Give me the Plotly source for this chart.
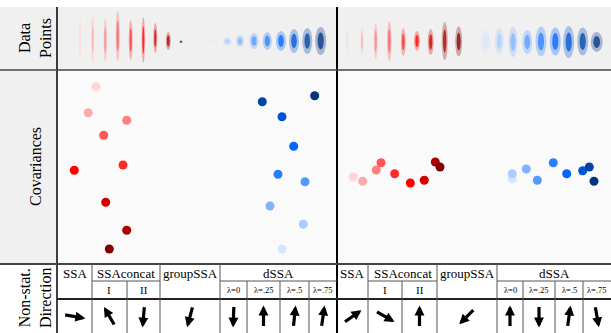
import plotly.graph_objects as go
import math

W, H = 611, 333

# ---------------- data ----------------
red_palette = ['#ffd5d5', '#ffaaaa', '#ff8080', '#ff5555', '#ff2a2a',
               '#ff0000', '#d40000', '#aa0000', '#800000']
blue_palette = ['#d5e5ff', '#aaccff', '#80b3ff', '#5599ff', '#2a7fff',
                '#0066ff', '#0055d4', '#0044aa', '#003380']

# Data-point clouds: centre x, centre y, spread width, spread height (panel units)
dp_left_red_x = [23, 35.7, 48.3, 60.7, 73.7, 86.3, 98.3, 111.3, 124]
dp_left_red_y = [-1.5, -1.5, -2.5, 1.5, -2.5, -2.5, -0.5, -3.5, -4.2]
dp_left_red_w = [2.5, 3, 3.5, 4, 4, 3.5, 4, 5, 3.5]
dp_left_red_h = [48, 46, 44, 50, 40, 46, 30, 18, 3]
dp_left_blue_x = [156.3, 170.3, 183, 197, 210.3, 224, 237, 250.3, 263.7]
dp_left_blue_y = [-4, -4, -3.5, -3.5, -3.5, -3.5, -3.5, -3.5, -3.5]
dp_left_blue_w = [10, 8, 8, 9, 9, 10, 10, 10, 11]
dp_left_blue_h = [1.5, 8, 12, 16, 18, 20, 24, 26, 28]

dp_right_red_x = [10.3, 25, 38.7, 52.3, 66.3, 80, 93.7, 107.7, 121.7]
dp_right_red_y = [-3.5, -4, -3.5, -3.5, -4.5, -3.5, -4.5, -3.5, -4]
dp_right_red_w = [2, 3, 4, 4.5, 5, 6, 6, 6, 7]
dp_right_red_h = [28, 26, 36, 40, 28, 20, 26, 38, 30]
dp_right_blue_x = [148.3, 162.3, 176, 190.3, 204, 218.3, 231.7, 245.7, 259.7]
dp_right_blue_y = [-4.5, -3.5, -4.5, -4.5, -4, -4, -4.5, -4, -4.5]
dp_right_blue_w = [10, 9, 9, 10, 11, 11, 11, 11, 12]
dp_right_blue_h = [24, 26, 30, 24, 30, 28, 32, 28, 20]

# Covariances
cov_left_red_x = [39, 31.3, 69.7, 46.7, 66, 17.3, 48.7, 69.7, 52.3]
cov_left_red_y = [177.3, 151.3, 143.7, 128.7, 99, 93.7, 61.7, 33.7, 15]
cov_left_blue_x = [225, 246.3, 213, 248, 221, 236.7, 225, 205.3, 257.7]
cov_left_blue_y = [15, 39.7, 58, 82.3, 89.7, 117.7, 147.3, 162.3, 168.3]
cov_right_red_x = [16.3, 25.7, 39.3, 44, 57.7, 73.3, 87.3, 98.3, 103]
cov_right_red_y = [87, 82.7, 94, 101.3, 90.3, 81, 83.7, 102, 97]
cov_right_blue_x = [175.3, 175.3, 189.3, 200.3, 216.3, 229.7, 245.7, 252.3, 257]
cov_right_blue_y = [85.3, 90.3, 95, 83.7, 101.3, 90.3, 93.3, 97, 82.7]

# Table
methods = ["SSA", "SSAconcat", "groupSSA", "dSSA"]
sub_labels = {"SSAconcat": ["I", "II"], "dSSA": ["λ=0", "λ=.25", "λ=.5", "λ=.75"]}
angles_left = [-10, 120, -95, -105, -92, 90, 84, 82]
angles_right = [35, -30, 90, -135, 90, -90, 82, -80]

# ---------------- layout constants ----------------
def fx(px):
    return px / W

def fy(py):
    return 1 - py / H

LBL = 57
MID = 337
TOP0, TOP1 = 7, 70
COV1 = 264
HDR1, SUB1 = 281, 299

edges_left = [57, 92, 127, 160, 220, 247, 280, 309, 337]
edges_right = [337, 368, 402, 437, 497, 523, 555, 583, 611]
spans = {"SSA": (0, 1), "SSAconcat": (1, 3), "groupSSA": (3, 4), "dSSA": (4, 8)}

SERIF = "Liberation Serif, Times New Roman, serif"

fig = go.Figure()
shapes = []
annotations = []

def rect(x0, y0, x1, y1, color):
    shapes.append(dict(type="rect", xref="paper", yref="paper", x0=fx(x0), x1=fx(x1),
                       y0=fy(y1), y1=fy(y0), fillcolor=color, line=dict(width=0), layer="below"))

def line(x0, y0, x1, y1, color="black", width=1):
    shapes.append(dict(type="line", xref="paper", yref="paper", x0=fx(x0), x1=fx(x1),
                       y0=fy(y0), y1=fy(y1), line=dict(color=color, width=width), layer="above"))

def text(px, py, t, size, angle=0):
    annotations.append(dict(x=fx(px), y=fy(py), xref="paper", yref="paper", text=t,
                            showarrow=False, xanchor="center", yanchor="middle",
                            textangle=angle,
                            font=dict(family=SERIF, size=size, color="black")))

# backgrounds
rect(0, TOP0, W, TOP1, "#f0f0f0")
rect(0, TOP1, LBL, COV1, "#f0f0f0")
rect(LBL, TOP1, W, COV1, "#fafafa")

# clouds
def clouds(xs, ys, ws, hs, palette, xr, yr):
    for cx, cy, w, h, c in zip(xs, ys, ws, hs, palette):
        shapes.append(dict(type="circle", xref=xr, yref=yr, x0=cx - w / 2, x1=cx + w / 2,
                           y0=cy - h / 2, y1=cy + h / 2, fillcolor=c, opacity=0.3,
                           line=dict(width=0), layer="below"))
        shapes.append(dict(type="circle", xref=xr, yref=yr, x0=cx - w * 0.28, x1=cx + w * 0.28,
                           y0=cy - h * 0.3, y1=cy + h * 0.3, fillcolor=c, opacity=0.75,
                           line=dict(width=0), layer="below"))

clouds(dp_left_red_x, dp_left_red_y, dp_left_red_w, dp_left_red_h, red_palette, "x", "y")
clouds(dp_left_blue_x, dp_left_blue_y, dp_left_blue_w, dp_left_blue_h, blue_palette, "x", "y")
clouds(dp_right_red_x, dp_right_red_y, dp_right_red_w, dp_right_red_h, red_palette, "x2", "y2")
clouds(dp_right_blue_x, dp_right_blue_y, dp_right_blue_w, dp_right_blue_h, blue_palette, "x2", "y2")

# covariance points
for xs, ys, pal, xa, ya in [
    (cov_left_red_x, cov_left_red_y, red_palette, "x3", "y3"),
    (cov_left_blue_x, cov_left_blue_y, blue_palette, "x3", "y3"),
    (cov_right_red_x, cov_right_red_y, red_palette, "x4", "y4"),
    (cov_right_blue_x, cov_right_blue_y, blue_palette, "x4", "y4"),
]:
    fig.add_trace(go.Scatter(x=xs, y=ys, mode="markers", xaxis=xa, yaxis=ya,
                             marker=dict(color=pal, size=9, line=dict(width=0)),
                             showlegend=False, hoverinfo="skip"))

# frame lines
line(LBL, TOP0, LBL, H, "black", 1.5)
line(MID, TOP0, MID, H, "black", 2)
line(0, TOP1, W, TOP1, "#444444", 1.5)
line(0, COV1, W, COV1, "#444444", 2)
line(LBL, SUB1, W, SUB1, "#222222", 2)

# table
for edges, angles in [(edges_left, angles_left), (edges_right, angles_right)]:
    for m in methods:
        a, b = spans[m]
        x0, x1 = edges[a], edges[b]
        text((x0 + x1) / 2, (COV1 + HDR1) / 2 + 0.5, m, 13)
        if m in sub_labels:
            line(x0, HDR1, x1, HDR1, "#555555", 1)
            for k, lab in enumerate(sub_labels[m]):
                sx0, sx1 = edges[a + k], edges[a + k + 1]
                small = lab.startswith("λ")
                text((sx0 + sx1) / 2, (HDR1 + SUB1) / 2, lab, 8.5 if small else 11)
                if k > 0:
                    line(sx0, HDR1, sx0, H, "#555555", 1)
        if x0 not in (LBL, MID):
            line(x0, COV1, x0, H, "#555555", 1)
    # arrows
    L = 22
    for k, ang in enumerate(angles):
        cx = (edges[k] + edges[k + 1]) / 2
        cy = (SUB1 + H) / 2 + 0.5
        dx = L * math.cos(math.radians(ang))
        dy = -L * math.sin(math.radians(ang))
        hx, hy = cx + dx / 2, cy + dy / 2
        annotations.append(dict(x=fx(hx), y=fy(hy), xref="paper", yref="paper", text="",
                                showarrow=True, ax=-dx, ay=-dy, axref="pixel", ayref="pixel",
                                arrowhead=2, arrowsize=0.62, arrowwidth=3.2, arrowcolor="black",
                                standoff=0, startstandoff=0))

# row labels
text(35, 38, "Data<br>Points", 16, -90)
text(35, (TOP1 + COV1) / 2, "Covariances", 16, -90)
text(35, 298, "Non-stat.<br>Direction", 16, -90)

ax_common = dict(visible=False, showgrid=False, zeroline=False, fixedrange=True)
fig.update_layout(
    width=W, height=H, margin=dict(l=0, r=0, t=0, b=0),
    paper_bgcolor="white", plot_bgcolor="rgba(0,0,0,0)",
    showlegend=False,
    xaxis=dict(domain=[fx(LBL), fx(MID)], range=[0, 280], anchor="y", **ax_common),
    yaxis=dict(domain=[fy(TOP1 - 2), fy(TOP0)], range=[-30.5, 30.5], anchor="x", **ax_common),
    xaxis2=dict(domain=[fx(MID), 1], range=[0, 274], anchor="y2", **ax_common),
    yaxis2=dict(domain=[fy(TOP1 - 2), fy(TOP0)], range=[-30.5, 30.5], anchor="x2", **ax_common),
    xaxis3=dict(domain=[fx(LBL), fx(MID)], range=[0, 280], anchor="y3", **ax_common),
    yaxis3=dict(domain=[fy(COV1), fy(TOP1)], range=[0, 194], anchor="x3", **ax_common),
    xaxis4=dict(domain=[fx(MID), 1], range=[0, 274], anchor="y4", **ax_common),
    yaxis4=dict(domain=[fy(COV1), fy(TOP1)], range=[0, 194], anchor="x4", **ax_common),
    shapes=shapes, annotations=annotations,
)

fig.write_html("out.html", config={"displayModeBar": False},
               post_script="document.body.style.margin='0';document.body.style.overflow='hidden';")
